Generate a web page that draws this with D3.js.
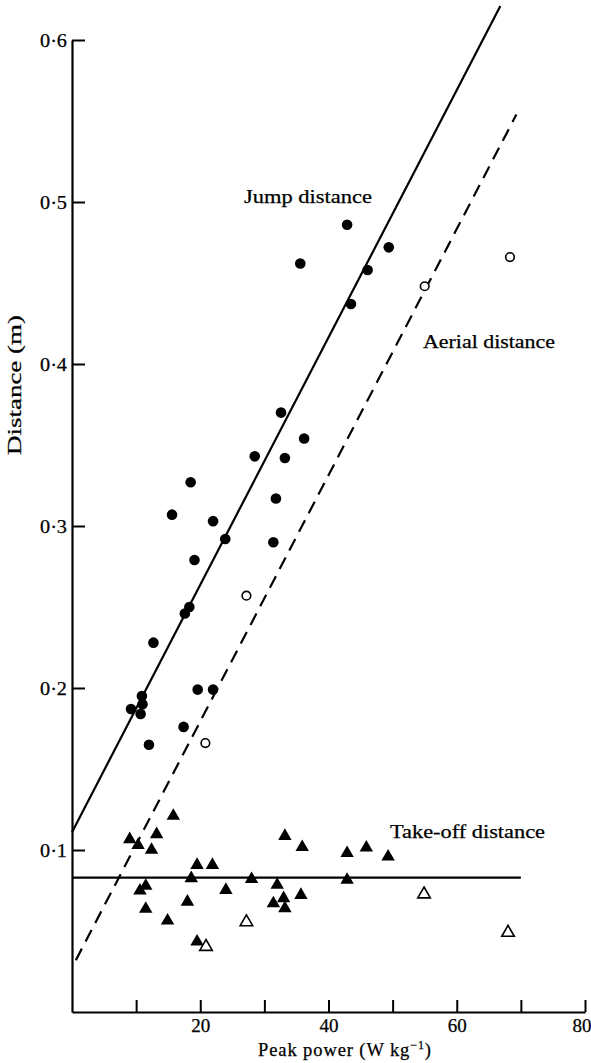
<!DOCTYPE html>
<html>
<head>
<meta charset="utf-8">
<script src="https://cdn.jsdelivr.net/npm/d3@7"></script>
<style>
  html, body { margin: 0; padding: 0; background: #fff; }
  svg { display: block; }
  text { font-family: "Liberation Serif", "Times New Roman", serif; fill: #000; stroke: #000; stroke-width: 0.25px; }
</style>
</head>
<body>
<svg id="chart" width="591" height="1063"></svg>
<script>
// ---- data (peak power W/kg, distance m) ----
const jumpFilled = [
  [42.9,0.486],[49.4,0.472],[35.6,0.462],[46.1,0.458],[43.5,0.437],
  [32.6,0.370],[36.2,0.354],[28.5,0.343],[33.2,0.342],[18.5,0.327],
  [31.8,0.317],[15.6,0.307],[22.0,0.303],[23.9,0.292],[31.4,0.290],
  [19.1,0.279],[18.3,0.250],[17.6,0.246],[12.7,0.228],[10.9,0.195],
  [11.0,0.190],[9.2,0.187],[10.7,0.184],[19.6,0.199],[22.0,0.199],
  [17.4,0.176],[12.0,0.165]
];
const jumpOpen = [[20.8,0.166],[27.2,0.257],[55.0,0.448],[68.3,0.466]];
const takeoffFilled = [
  [9.0,0.1066],[10.3,0.103],[12.4,0.100],[13.2,0.1097],[15.8,0.121],
  [11.5,0.0778],[10.6,0.0749],[11.5,0.0636],[14.9,0.0564],[18.0,0.068],
  [18.6,0.0825],[19.5,0.0907],[21.9,0.0907],[24.0,0.0753],[28.0,0.082],
  [19.5,0.0434],[32.0,0.0784],[31.4,0.067],[33.0,0.0702],[33.2,0.064],
  [33.2,0.1086],[35.9,0.1017],[35.7,0.0722],[42.9,0.098],[42.9,0.0815],
  [45.9,0.1014],[49.3,0.0959]
];
const takeoffOpen = [[20.9,0.0403],[27.2,0.0555],[54.9,0.0727],[68.0,0.049]];
const jumpLine = [[0,0.111],[66.8,0.621]];
const aerialLine = [[0.6,0.032],[69.3,0.554]];
const takeoffLine = [[0,0.083],[70,0.083]];
const xTicks = [10,20,30,40,50,60,70,80];
const xTickLabels = [20,40,60,80];
const yTicks = [0.1,0.2,0.3,0.4,0.5,0.6];
const labels = {
  jump: "Jump distance", aerial: "Aerial distance", takeoff: "Take-off distance",
  xTitle: "Peak power (W kg", yTitle: "Distance (m)"
};

// ---- scales ----
const svg = d3.select("#chart");
const x = d3.scaleLinear().domain([0, 80]).range([72, 585]);
const y = d3.scaleLinear().domain([0, 0.6]).range([1012, 40]);

// ---- axes ----
const yAxis = d3.axisLeft(y).tickValues(yTicks).tickSizeInner(-13).tickSizeOuter(0).tickPadding(5)
  .tickFormat(d => d3.format(".1f")(d).replace(".", "\u00b7"));
const gy = svg.append("g").attr("transform", `translate(${x(0)},0)`).call(yAxis);
const xAxis = d3.axisBottom(x).tickValues(xTicks).tickSizeInner(-12).tickSizeOuter(0).tickPadding(7)
  .tickFormat(d => xTickLabels.includes(d) ? String(d) : "");
const gx = svg.append("g").attr("transform", `translate(0,${y(0)})`).call(xAxis);
[gx, gy].forEach(g => {
  g.select(".domain").attr("stroke", "#000").attr("stroke-width", 2.2);
  g.selectAll(".tick line").attr("stroke", "#000").attr("stroke-width", 2);
  g.selectAll(".tick text").attr("font-family", "Liberation Serif").attr("font-size", 19).attr("fill", "#000");
});
gy.selectAll(".tick text").attr("textLength", 27).attr("lengthAdjust", "spacingAndGlyphs");
// keep the last label inside the page edge
gx.selectAll(".tick text").filter(d => d === 80).attr("text-anchor", "end").attr("dx", 6);

// ---- lines ----
const line = d3.line().x(d => x(d[0])).y(d => y(d[1]));
svg.append("path").datum(jumpLine).attr("d", line).attr("fill", "none").attr("stroke", "#000").attr("stroke-width", 2.2);
svg.append("path").datum(aerialLine).attr("d", line).attr("fill", "none").attr("stroke", "#000").attr("stroke-width", 2.2).attr("stroke-dasharray", "13,8");
svg.append("path").datum(takeoffLine).attr("d", line).attr("fill", "none").attr("stroke", "#000").attr("stroke-width", 2.2);

// ---- points ----
svg.append("g").selectAll("circle").data(jumpFilled).join("circle")
  .attr("cx", d => x(d[0])).attr("cy", d => y(d[1])).attr("r", 5.3).attr("fill", "#000");
svg.append("g").selectAll("circle").data(jumpOpen).join("circle")
  .attr("cx", d => x(d[0])).attr("cy", d => y(d[1])).attr("r", 4.3).attr("fill", "#fff").attr("stroke", "#000").attr("stroke-width", 1.6);
const tri = d3.symbol().type(d3.symbolTriangle);
svg.append("g").selectAll("path").data(takeoffFilled).join("path")
  .attr("transform", d => `translate(${x(d[0])},${y(d[1])})`).attr("d", tri.size(78)()).attr("fill", "#000");
svg.append("g").selectAll("path").data(takeoffOpen).join("path")
  .attr("transform", d => `translate(${x(d[0])},${y(d[1])})`).attr("d", tri.size(68)()).attr("fill", "#fff").attr("stroke", "#000").attr("stroke-width", 1.6);

// ---- annotations ----
svg.append("text").attr("x", 244).attr("y", 203).attr("font-size", 18)
  .attr("textLength", 128).attr("lengthAdjust", "spacingAndGlyphs").text(labels.jump);
svg.append("text").attr("x", 423).attr("y", 348).attr("font-size", 18)
  .attr("textLength", 132).attr("lengthAdjust", "spacingAndGlyphs").text(labels.aerial);
svg.append("text").attr("x", 390).attr("y", 838).attr("font-size", 18)
  .attr("textLength", 155).attr("lengthAdjust", "spacingAndGlyphs").text(labels.takeoff);

// axis titles
const xt = svg.append("text").attr("x", 258).attr("y", 1056).attr("font-size", 18.5).attr("letter-spacing", 0.9);
xt.append("tspan").text(labels.xTitle);
xt.append("tspan").attr("dy", -7).attr("font-size", 12).text("\u22121");
xt.append("tspan").attr("dy", 7).text(")");
svg.append("text").attr("transform", "translate(21,385) rotate(-90)").attr("text-anchor", "middle")
  .attr("font-size", 18).attr("textLength", 140).attr("lengthAdjust", "spacingAndGlyphs").text(labels.yTitle);
</script>
</body>
</html>
